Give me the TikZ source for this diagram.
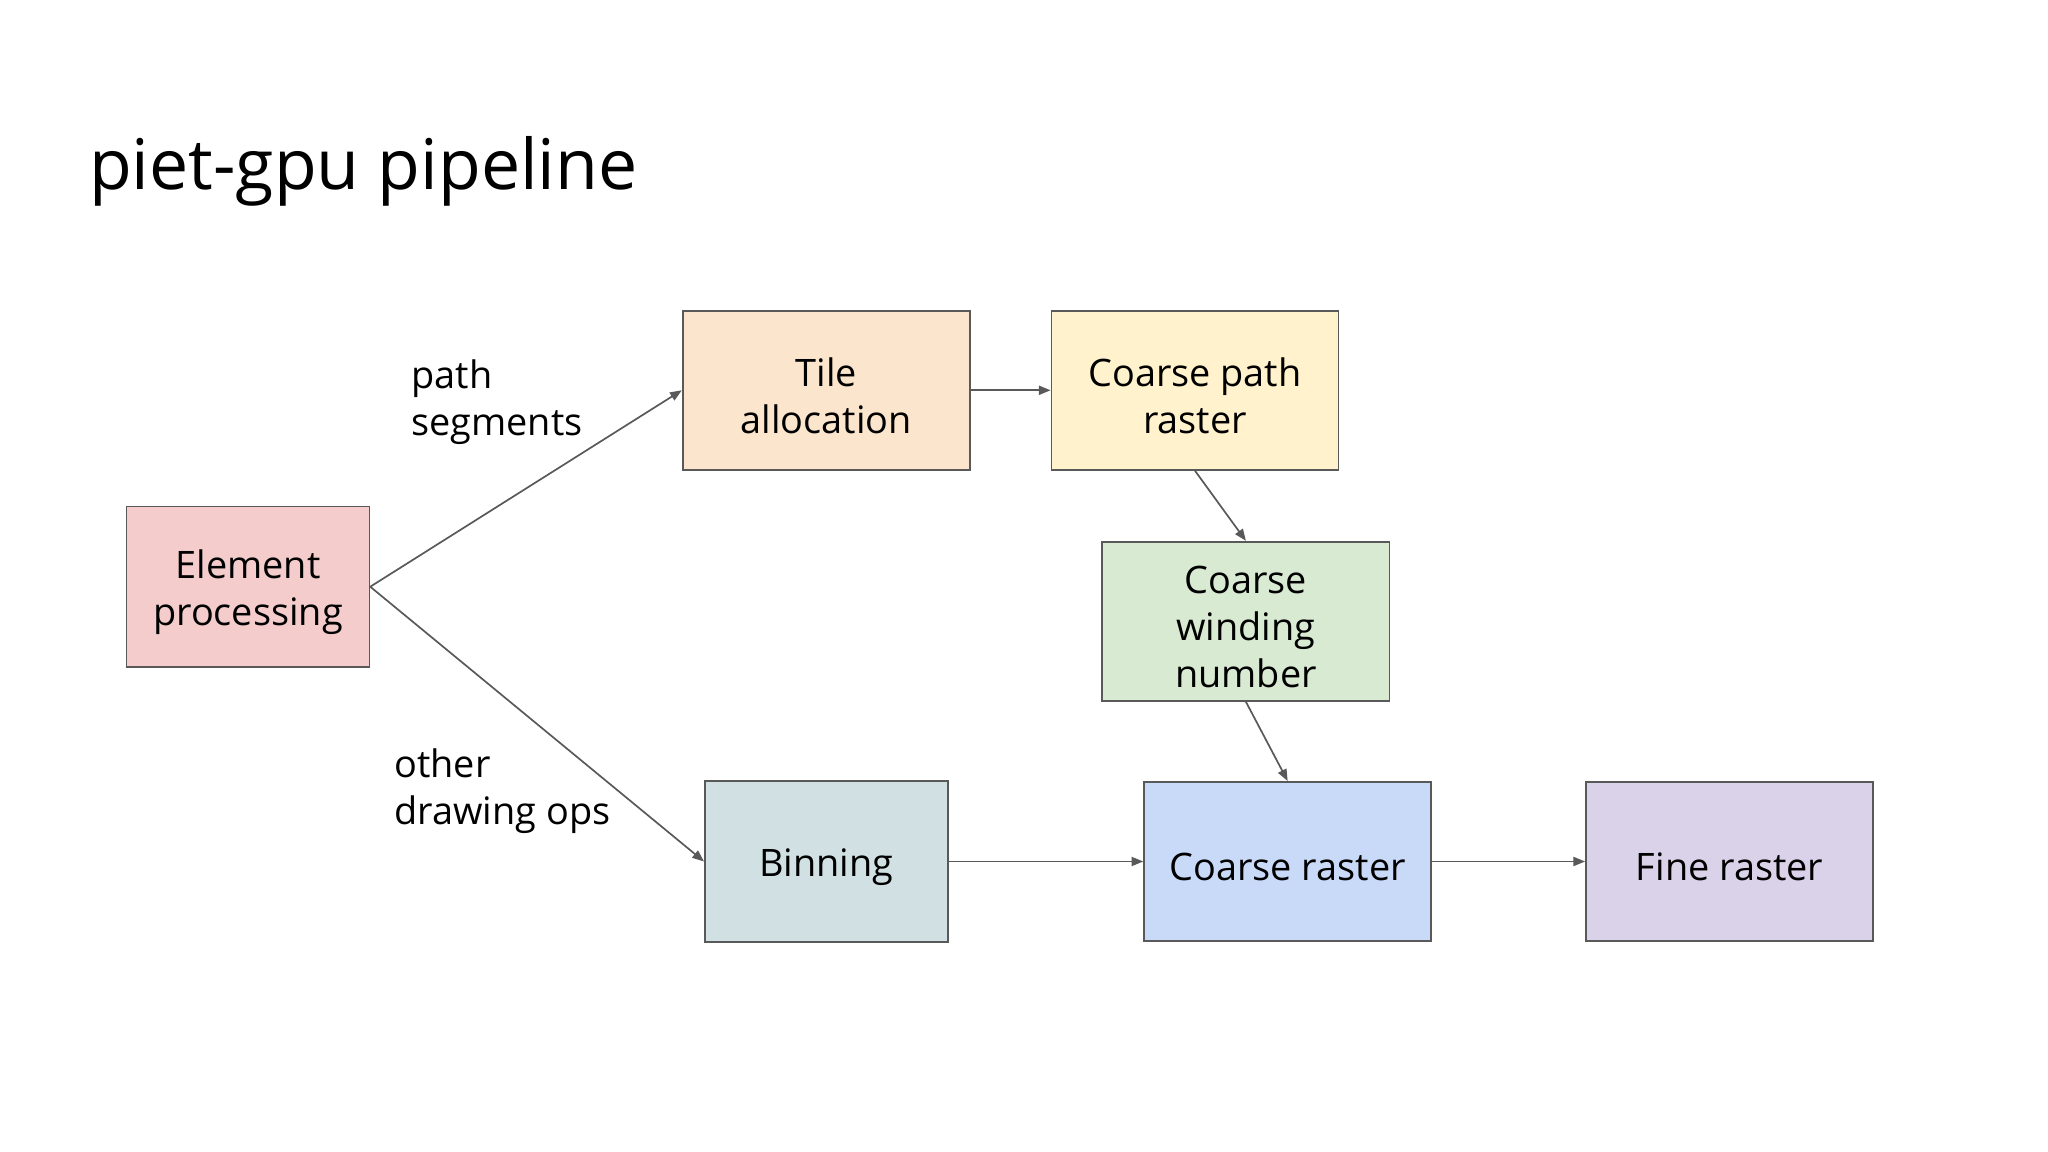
\documentclass[tikz,border=0pt]{standalone}
\usepackage{fontspec}
\setmainfont{Open Sans}
\usetikzlibrary{arrows.meta}
\definecolor{bordergray}{HTML}{595959}
\definecolor{cPink}{HTML}{F4CCCC}
\definecolor{cOrange}{HTML}{FCE5CD}
\definecolor{cYellow}{HTML}{FFF2CC}
\definecolor{cGreen}{HTML}{D9EAD3}
\definecolor{cCyan}{HTML}{D0E0E3}
\definecolor{cBlue}{HTML}{C9DAF8}
\definecolor{cPurple}{HTML}{D9D2E9}
\tikzset{
  stagebox/.style={draw=bordergray, line width=1.3pt, rectangle, inner sep=0pt},
  boxtext/.style={align=center, font=\fontsize{29}{36}\selectfont, text=black, inner sep=0pt, yshift=-4pt},
  wideb/.style={minimum width=220pt, minimum height=122pt},
  narrowb/.style={minimum width=186pt, minimum height=123pt},
  flow/.style={draw=bordergray, line width=1.3pt, -{Triangle[length=9pt,width=7pt]}},
  lbl/.style={font=\fontsize{29}{36}\selectfont, align=left, inner sep=0pt}
}
\begin{document}
\begin{tikzpicture}[x=1pt,y=-1pt]
\useasboundingbox (0,0) rectangle (1569,882);
\fill[white] (0,0) rectangle (1569,882);
\node[anchor=base west, inner sep=0pt, font=\fontsize{53.5}{64}\selectfont] (title) at (68,145) {piet-gpu pipeline};

\node[stagebox, narrowb, fill=cPink, label={[boxtext]center:{Element\\processing}}] (elem) at (190,449.5) {};
\node[stagebox, wideb, fill=cOrange, label={[boxtext]center:{Tile\\allocation}}] (tile) at (633,299) {};
\node[stagebox, wideb, fill=cYellow, label={[boxtext]center:{Coarse path\\raster}}] (cpr) at (915.5,299) {};
\node[stagebox, wideb, fill=cGreen, label={[boxtext]center:{Coarse\\winding\\number}}] (cwn) at (954.5,476) {};
\node[stagebox, narrowb, fill=cCyan, label={[boxtext]center:{Binning}}] (bin) at (633,660) {};
\node[stagebox, wideb, fill=cBlue, label={[boxtext]center:{Coarse raster}}] (cr) at (986.5,660) {};
\node[stagebox, wideb, fill=cPurple, label={[boxtext]center:{Fine raster}}] (fr) at (1325,660) {};

\node[lbl, anchor=west] (lpath) at (315,308) {path\\segments};
\node[lbl, anchor=west] (lother) at (302,606) {other\\drawing ops};

\draw[flow] (elem.east) -- (tile.west);
\draw[flow] (elem.east) -- (bin.west);
\draw[flow] (tile.east) -- (cpr.west);
\draw[flow] (cpr.south) -- (cwn.north);
\draw[flow] (cwn.south) -- (cr.north);
\draw[flow] (bin.east) -- (cr.west);
\draw[flow] (cr.east) -- (fr.west);
\end{tikzpicture}
\end{document}
